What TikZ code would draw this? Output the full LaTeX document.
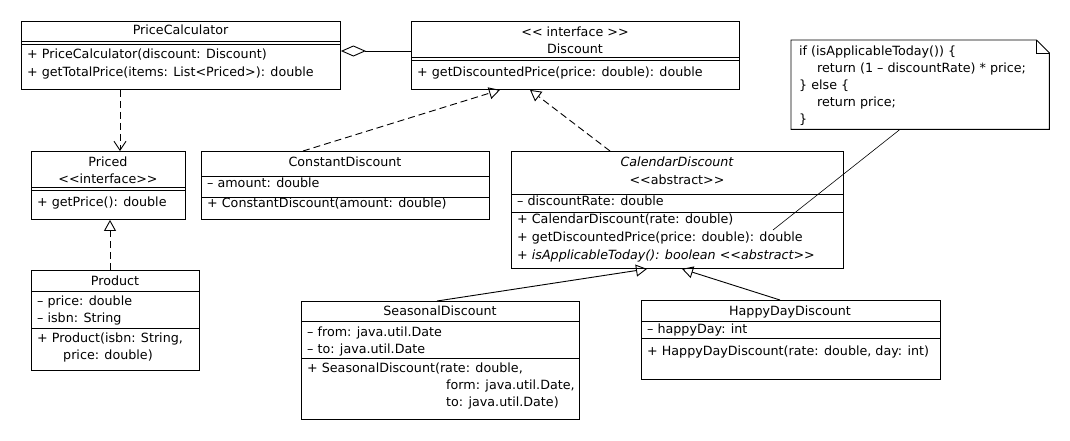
\documentclass[tikz,border=0pt]{standalone}
\usepackage{fontspec}
\setmainfont{DejaVu Sans}[Ligatures=TeXOff]
\usetikzlibrary{arrows.meta,calc}
\newcommand\hsepline[2]{\draw[sepl] ($(#1.north west)+(0,#2)$) -- ($(#1.north east)+(0,#2)$);}
\begin{document}
\begin{tikzpicture}[x=1pt,y=-1pt,
  font=\fontsize{12.7}{15}\selectfont,
  box/.style={draw, line width=0.9pt, rectangle, inner sep=0pt, anchor=north west},
  txt/.style={inner sep=0pt, anchor=west, text height=9.3pt, text depth=2.9pt},
  ctxt/.style={inner sep=0pt, anchor=center, text height=9.3pt, text depth=2.9pt},
  sepl/.style={line width=0.9pt},
  dep/.style={line width=0.9pt, dash pattern=on 7pt off 4pt},
  solidl/.style={line width=0.9pt},
  realize/.style={dep, -{Triangle[open, length=11pt, width=12pt]}},
  usesl/.style={dep, -{Straight Barb[length=9pt, width=12pt]}},
  inherit/.style={solidl, -{Triangle[open, length=11pt, width=12pt]}},
]
\useasboundingbox (0,0) rectangle (1070,440);

% PriceCalculator
\node[box, minimum width=319pt, minimum height=68pt] (pc) at (21,21) {};
\node[ctxt] (pct) at (180.5,31.5) {PriceCalculator};
\hsepline{pc}{20}\hsepline{pc}{23}
\node[txt] (pcm1) at (27,55) {+ PriceCalculator(discount: Discount)};
\node[txt] (pcm2) at (27,73) {+ getTotalPrice(items: List<Priced>): double};

% Discount
\node[box, minimum width=328pt, minimum height=68pt] (disc) at (411,21) {};
\node[ctxt] (dst) at (575,33) {<< interface >>};
\node[ctxt] (dt) at (575,50) {Discount};
\hsepline{disc}{36}\hsepline{disc}{39}
\node[txt] (dm1) at (417,73) {+ getDiscountedPrice(price: double): double};

% Note
\node[inner sep=0pt, anchor=north west, minimum width=258pt, minimum height=89pt] (note) at (791,40) {};
\draw[solidl] (note.north west) -- ($(note.north east)+(-13,0)$) -- ($(note.north east)+(0,13)$) -- (note.south east) -- (note.south west) -- cycle;
\draw[solidl] ($(note.north east)+(-13,0)$) |- ($(note.north east)+(0,13)$);
\node[txt] (n1) at (799,52) {if (isApplicableToday()) \{};
\node[txt] (n2) at (817,69) {return (1 – discountRate) * price;};
\node[txt] (n3) at (799,86) {\} else \{};
\node[txt] (n4) at (817,103) {return price;};
\node[txt] (n5) at (799,120) {\}};

% Priced
\node[box, minimum width=154pt, minimum height=68pt] (priced) at (31,151) {};
\node[ctxt] (prt) at (108,163) {Priced};
\node[ctxt] (prs) at (108,180) {<<interface>>};
\hsepline{priced}{36}\hsepline{priced}{39}
\node[txt] (prm) at (37,203) {+ getPrice(): double};

% ConstantDiscount
\node[box, minimum width=288pt, minimum height=68pt] (cd) at (201,151) {};
\node[ctxt] (cdt) at (345,163) {ConstantDiscount};
\hsepline{cd}{25}
\node[txt] (cda) at (207,184) {– amount: double};
\hsepline{cd}{46}
\node[txt] (cdm) at (207,204) {+ ConstantDiscount(amount: double)};

% CalendarDiscount
\node[box, minimum width=332pt, minimum height=117pt] (cal) at (511,151) {};
\node[ctxt] (calt) at (677,163) {\itshape CalendarDiscount};
\node[ctxt] (cals) at (677,181) {<<abstract>>};
\hsepline{cal}{43}
\node[txt] (cala) at (517,202.5) {– discountRate: double};
\hsepline{cal}{61}
\node[txt] (calm1) at (517,220) {+ CalendarDiscount(rate: double)};
\node[txt] (calm2) at (517,238) {+ getDiscountedPrice(price: double): double};
\node[txt] (calm3) at (517,256) {\itshape + isApplicableToday(): boolean <<abstract>>};

% Product
\node[box, minimum width=168pt, minimum height=100pt] (prod) at (31,270) {};
\node[ctxt] (prodt) at (115,282) {Product};
\hsepline{prod}{21}
\node[txt] (proda1) at (37,302) {– price: double};
\node[txt] (proda2) at (37,319) {– isbn: String};
\hsepline{prod}{58}
\node[txt] (prodm1) at (37,339) {+ Product(isbn: String,};
\node[txt] (prodm2) at (63,356) {price: double)};

% SeasonalDiscount
\node[box, minimum width=278pt, minimum height=118pt] (sd) at (301,301) {};
\node[ctxt] (sdt) at (440,312) {SeasonalDiscount};
\hsepline{sd}{20}
\node[txt] (sda1) at (307,333) {– from: java.util.Date};
\node[txt] (sda2) at (307,350) {– to: java.util.Date};
\hsepline{sd}{57}
\node[txt] (sdm1) at (307,369) {+ SeasonalDiscount(rate: double,};
\node[txt] (sdm2) at (446,386) {form: java.util.Date,};
\node[txt] (sdm3) at (446,403) {to: java.util.Date)};

% HappyDayDiscount
\node[box, minimum width=299pt, minimum height=79pt] (hd) at (641,300) {};
\node[ctxt] (hdt) at (790,312) {HappyDayDiscount};
\hsepline{hd}{21}
\node[txt] (hda) at (647,330) {– happyDay: int};
\hsepline{hd}{38}
\node[txt] (hdm) at (647,352) {+ HappyDayDiscount(rate: double, day: int)};

% connectors
\draw[solidl, {Diamond[open, length=25pt, width=11pt]}-] (pc.east |- 0,51) -- (disc.west |- 0,51);
\draw[usesl] (120,0 |- pc.south) -- (120,0 |- priced.north);
\draw[realize] (110,0 |- prod.north) -- (110,0 |- priced.south);
\draw[realize] (303,0 |- cd.north) -- (500,0 |- disc.south);
\draw[realize] (610,0 |- cal.north) -- (530,0 |- disc.south);
\draw[inherit] (437,0 |- sd.north) -- (647,0 |- cal.south);
\draw[inherit] (780,0 |- hd.north) -- (682,0 |- cal.south);
\coordinate (noteend) at (773,230);
\draw[line width=0.6pt] (900,0 |- note.south) -- (noteend);
\end{tikzpicture}
\end{document}
